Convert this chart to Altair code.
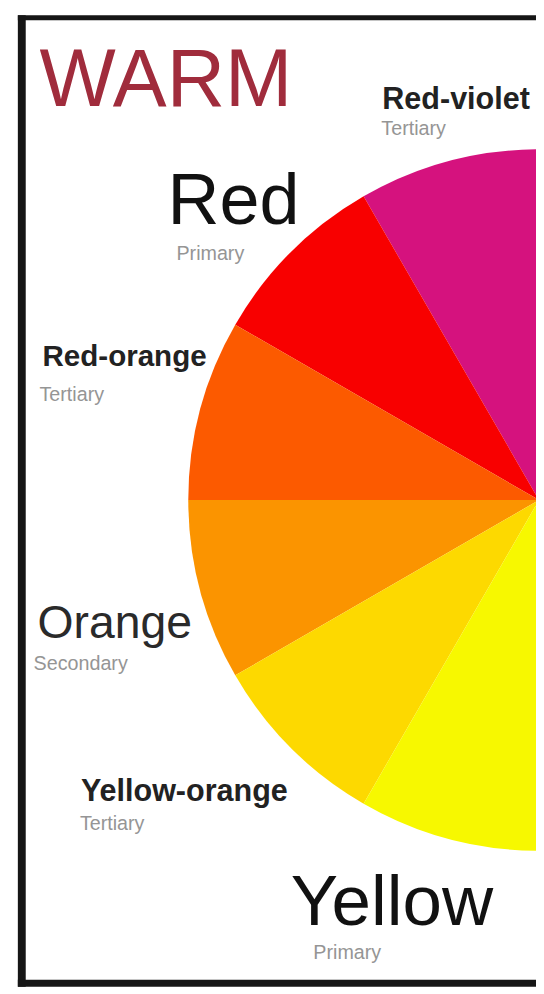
import math
import pandas as pd
import altair as alt

# ---- data ----
names = ["Red-violet", "Red", "Red-orange", "Orange", "Yellow-orange", "Yellow"]
kinds = ["Tertiary", "Primary", "Tertiary", "Secondary", "Tertiary", "Primary"]
degrees = [30, 30, 30, 30, 30, 30]
colors = ["#d5127e", "#f80000", "#fc5a00", "#fb9400", "#fdd900", "#f7f800"]
title_text = ["WARM"]

df = pd.DataFrame({"name": names, "kind": kinds, "deg": degrees, "idx": list(range(len(names)))})

W, H = 536, 986
FONT = "Liberation Sans"

pie = alt.Chart(df).mark_arc(radius=356, clip=True).encode(
    theta=alt.Theta("deg:Q", stack=True,
                    scale=alt.Scale(domain=[0, 180], range=[math.pi, 2 * math.pi])),
    color=alt.Color("name:N", scale=alt.Scale(domain=names, range=colors), legend=None),
    order=alt.Order("idx:Q", sort="descending"),
    x=alt.value(539),
    y=alt.value(492),
)

# layout of the labels: (name x, name y, size, weight, colour, sub x, sub y)
layout = {
    "Red-violet": (380, 95, 31, "bold", "#222222", 379, 121),
    "Red": (162, 212, 73, "normal", "#111111", 171, 248),
    "Red-orange": (35, 356, 30, "bold", "#222222", 32, 391),
    "Orange": (30, 632, 47, "normal", "#2a2a2a", 26, 665),
    "Yellow-orange": (74, 798, 31, "bold", "#222222", 73, 827),
    "Yellow": (287, 923, 72, "normal", "#111111", 310, 958),
}

layers = [pie]
for n in names:
    nx, ny, fs, fw, col, sx, sy = layout[n]
    base = alt.Chart(df).transform_filter(alt.datum.name == n)
    layers.append(base.mark_text(align="left", baseline="alphabetic", font=FONT,
                                 fontSize=fs, fontWeight=fw, color=col).encode(
        text="name:N", x=alt.value(nx), y=alt.value(ny)))
    layers.append(base.mark_text(align="left", baseline="alphabetic", font=FONT,
                                 fontSize=20, color="#959595").encode(
        text="kind:N", x=alt.value(sx), y=alt.value(sy)))

title = alt.Chart(pd.DataFrame({"t": title_text})).mark_text(
    align="left", baseline="alphabetic", font=FONT, fontSize=82, color="#a02c3c"
).encode(text="t:N", x=alt.value(32), y=alt.value(92))
layers.append(title)

dummy = pd.DataFrame({"a": [0]})
frame_col = "#161616"
left = alt.Chart(dummy).mark_rect(color=frame_col).encode(
    x=alt.value(10), x2=alt.value(18), y=alt.value(0), y2=alt.value(H))
top = alt.Chart(dummy).mark_rect(color=frame_col).encode(
    x=alt.value(10), x2=alt.value(W), y=alt.value(0), y2=alt.value(5))
bottom = alt.Chart(dummy).mark_rect(color=frame_col).encode(
    x=alt.value(10), x2=alt.value(W), y=alt.value(979), y2=alt.value(H))
layers += [left, top, bottom]

chart = alt.layer(*layers).properties(
    width=W, height=H,
    autosize=alt.AutoSizeParams(type="none"),
    padding=0,
    background="white",
).configure_view(strokeWidth=0)

chart.save("out.html", embed_options={"renderer": "svg", "actions": False})
